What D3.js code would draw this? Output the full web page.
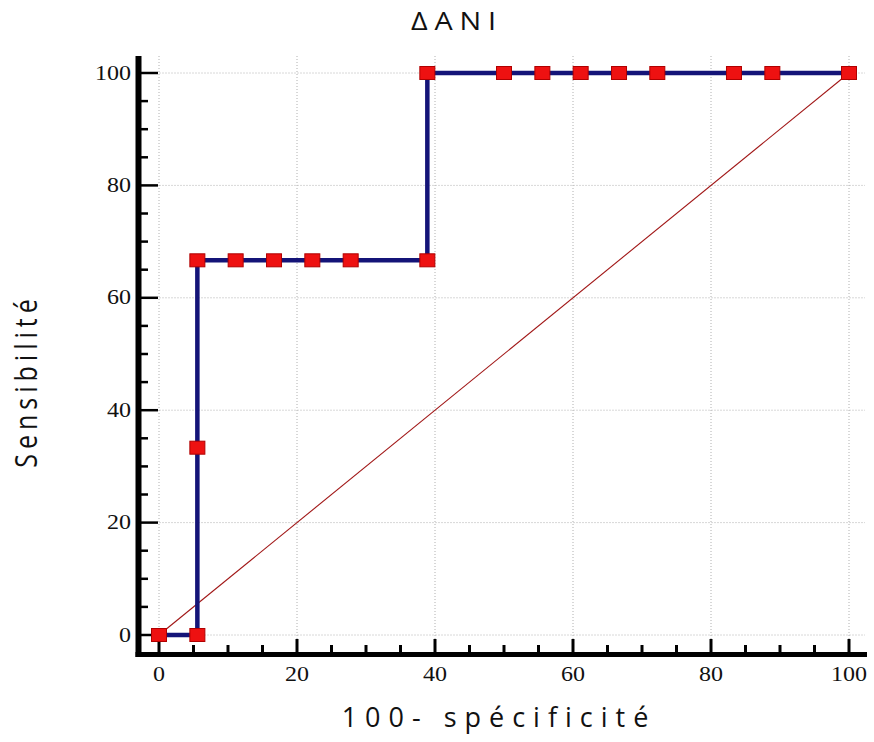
<!DOCTYPE html>
<html>
<head>
<meta charset="utf-8">
<script src="https://cdn.jsdelivr.net/npm/d3@7"></script>
<style>
  html, body { margin: 0; padding: 0; background: #fff; }
  svg { display: block; }
</style>
</head>
<body>
<svg id="chart" width="874" height="742"></svg>
<script>
// ROC curve points: 100 - specificity (x) and sensitivity (y)
const fpr = [0, 5.56, 5.56, 5.56, 11.11, 16.67, 22.22, 27.78, 38.89, 38.89, 50, 55.56, 61.11, 66.67, 72.22, 83.33, 88.89, 100];
const tpr = [0, 0, 33.33, 66.67, 66.67, 66.67, 66.67, 66.67, 66.67, 100, 100, 100, 100, 100, 100, 100, 100, 100];
const majorTicks = [0, 20, 40, 60, 80, 100];
const minorTicks = [5, 10, 15, 25, 30, 35, 45, 50, 55, 65, 70, 75, 85, 90, 95];
const titleText = "ΔANI";
const xTitle = "100- spécificité";
const yTitle = "Sensibilité";

const svg = d3.select("#chart");
const x = d3.scaleLinear().domain([0, 100]).range([159, 849]);
const y = d3.scaleLinear().domain([0, 100]).range([635, 73]);
const axisX = 138.5, axisY = 654.5;

// dotted grid
const grid = svg.append("g").attr("stroke", "#b0b0b0").attr("stroke-width", 1).attr("stroke-dasharray", "1,2");
grid.selectAll(".gx").data(majorTicks).join("line")
  .attr("x1", d => x(d)).attr("x2", d => x(d)).attr("y1", y(100) - 17).attr("y2", axisY);
grid.selectAll(".gy").data(majorTicks).join("line")
  .attr("y1", d => y(d)).attr("y2", d => y(d)).attr("x1", axisX).attr("x2", x(100) + 16);

// axis lines
svg.append("line").attr("x1", axisX).attr("x2", axisX).attr("y1", 56).attr("y2", axisY + 2.5)
  .attr("stroke", "#000").attr("stroke-width", 6);
svg.append("line").attr("x1", axisX - 3).attr("x2", 867).attr("y1", axisY).attr("y2", axisY)
  .attr("stroke", "#000").attr("stroke-width", 5);

// ticks (pointing into the plot)
const ticks = svg.append("g").attr("stroke", "#000");
ticks.selectAll(".tyM").data(majorTicks).join("line").attr("stroke-width", 2.5)
  .attr("x1", axisX).attr("x2", 158).attr("y1", d => y(d)).attr("y2", d => y(d));
ticks.selectAll(".tym").data(minorTicks).join("line").attr("stroke-width", 2.5)
  .attr("x1", axisX).attr("x2", 148).attr("y1", d => y(d)).attr("y2", d => y(d));
ticks.selectAll(".txM").data(majorTicks).join("line").attr("stroke-width", 3)
  .attr("y1", axisY).attr("y2", 639).attr("x1", d => x(d)).attr("x2", d => x(d));
ticks.selectAll(".txm").data(minorTicks).join("line").attr("stroke-width", 3)
  .attr("y1", axisY).attr("y2", 645).attr("x1", d => x(d)).attr("x2", d => x(d));

// tick labels
const lblFont = "'Liberation Serif', 'DejaVu Serif', serif";
svg.selectAll(".lx").data(majorTicks).join("text")
  .attr("transform", d => `translate(${x(d)},681) scale(1.2,1)`).attr("text-anchor", "middle")
  .attr("font-family", lblFont).attr("font-size", 20).attr("fill", "#111").text(d => d);
svg.selectAll(".ly").data(majorTicks).join("text")
  .attr("transform", d => `translate(131,${y(d) + 6.5}) scale(1.2,1)`).attr("text-anchor", "end")
  .attr("font-family", lblFont).attr("font-size", 20).attr("fill", "#111").text(d => d);

// diagonal reference line
svg.append("line").attr("x1", x(0)).attr("y1", y(0)).attr("x2", x(100)).attr("y2", y(100))
  .attr("stroke", "#a01515").attr("stroke-width", 1.1);

// ROC step line
const pts = fpr.map((v, i) => [v, tpr[i]]);
svg.append("path").datum(pts)
  .attr("d", d3.line().x(d => x(d[0])).y(d => y(d[1])))
  .attr("fill", "none").attr("stroke", "#141478").attr("stroke-width", 4.5);

// markers
const mw = 15, mh = 13;
svg.selectAll(".pt").data(pts).join("rect")
  .attr("x", d => x(d[0]) - mw / 2).attr("y", d => y(d[1]) - mh / 2)
  .attr("width", mw).attr("height", mh)
  .attr("fill", "#ee1111").attr("stroke", "#b00000").attr("stroke-width", 1);

// titles
const sans = "'Open Sans', 'Noto Sans', sans-serif";
svg.append("text").attr("transform", "translate(457,30) scale(1.15,1)").attr("text-anchor", "middle")
  .attr("font-family", sans).attr("font-size", 25).attr("letter-spacing", 6).attr("fill", "#111").text(titleText);
svg.append("text").attr("x", 499).attr("y", 727).attr("text-anchor", "middle")
  .attr("font-family", sans).attr("font-size", 27).attr("letter-spacing", 8).attr("fill", "#111").text(xTitle);
svg.append("text").attr("transform", "translate(37,381) scale(1.25,1) rotate(-90)").attr("text-anchor", "middle")
  .attr("font-family", sans).attr("font-size", 25).attr("letter-spacing", 5).attr("fill", "#111").text(yTitle);
</script>
</body>
</html>
